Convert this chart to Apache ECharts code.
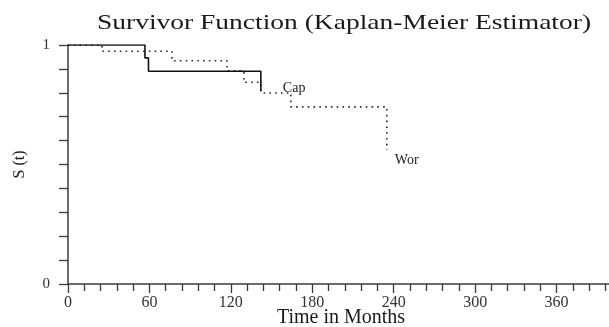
<!DOCTYPE html>
<html>
<head>
<meta charset="utf-8">
<script src="https://cdn.jsdelivr.net/npm/echarts@6/dist/echarts.min.js"></script>
<style>
  html, body { margin: 0; padding: 0; background: #fff; }
  #chart { width: 609px; height: 327px; }
</style>
</head>
<body>
<div id="chart"></div>
<script>
// Kaplan-Meier survivor estimates by group (time in months, S(t) after each drop)
const capTimes = [0, 56.7, 59.3, 142.1];
const capSurv  = [1, 0.946, 0.890, 0.808];
const worTimes = [0, 25.0, 76.6, 117.1, 129.6, 142.1, 164.2, 234.9];
const worSurv  = [1, 0.974, 0.934, 0.892, 0.844, 0.799, 0.741, 0.561];
const groupNames = ['Cap', 'Wor'];
const xTickStep = 60;   // labelled months
const yTickStep = 1;    // labelled S(t)

const serif = '"Liberation Serif", "Times New Roman", serif';
const axisColor = '#3a3a3a';

function pairs(xs, ys) { return xs.map((x, i) => [x, ys[i]]); }

function endLabel(name, offset) {
  return { show: true, formatter: name, distance: 0, offset: offset,
           fontFamily: serif, fontSize: 14, color: '#222' };
}

const chart = echarts.init(document.getElementById('chart'), null, { renderer: 'canvas' });
chart.setOption({
  animation: false,
  backgroundColor: '#ffffff',
  graphic: [{
    type: 'text', x: 344, y: 23, originX: 0, originY: 0, scaleX: 1.25, z: 10,
    style: {
      text: 'Survivor Function (Kaplan-Meier Estimator)',
      font: '22px ' + serif, fill: '#1a1a1a',
      align: 'center', verticalAlign: 'middle'
    }
  }],
  grid: { left: 68, top: 45, bottom: 43, right: -29, outerBoundsMode: 'none', containLabel: false },
  xAxis: {
    type: 'value', min: 0, max: 420, interval: xTickStep,
    name: 'Time in Months', nameLocation: 'middle', nameGap: 24, nameMoveOverlap: false,
    nameTextStyle: { fontFamily: serif, fontSize: 20, color: '#1a1a1a', padding: [0, 24, 0, 0] },
    axisLine: { show: true, lineStyle: { color: axisColor, width: 1.5 } },
    axisTick: { show: true, inside: false, length: 9, lineStyle: { color: axisColor, width: 1.3 } },
    minorTick: { show: true, splitNumber: 5, length: 7, lineStyle: { color: axisColor, width: 1.3 } },
    axisLabel: { margin: 11, fontFamily: serif, fontSize: 16, color: '#333' },
    splitLine: { show: false }, minorSplitLine: { show: false }
  },
  yAxis: {
    type: 'value', min: 0, max: 1, interval: yTickStep,
    name: 'S (t)', nameLocation: 'middle', nameGap: 40, nameRotate: 90,
    nameTextStyle: { fontFamily: serif, fontSize: 16, color: '#1a1a1a' },
    axisLine: { show: true, lineStyle: { color: axisColor, width: 1.5 } },
    axisTick: { show: true, inside: false, length: 9, lineStyle: { color: axisColor, width: 1.3 } },
    minorTick: { show: true, splitNumber: 10, length: 9, lineStyle: { color: axisColor, width: 1.3 } },
    axisLabel: { margin: 18, fontFamily: serif, fontSize: 15, color: '#333' },
    splitLine: { show: false }, minorSplitLine: { show: false }
  },
  series: [
    {
      name: groupNames[1], type: 'line', step: 'end', showSymbol: false, symbol: 'none',
      data: pairs(worTimes, worSurv),
      endLabel: endLabel(groupNames[1], [8, 10]),
      lineStyle: { color: '#2a2a2a', width: 1.6, type: [1.6, 4.2] },
      z: 2
    },
    {
      name: groupNames[0], type: 'line', step: 'end', showSymbol: false, symbol: 'none',
      data: pairs(capTimes, capSurv),
      endLabel: endLabel(groupNames[0], [22, -3]),
      lineStyle: { color: '#111', width: 1.6, type: 'solid' },
      z: 3
    }
  ]
});
</script>
</body>
</html>
